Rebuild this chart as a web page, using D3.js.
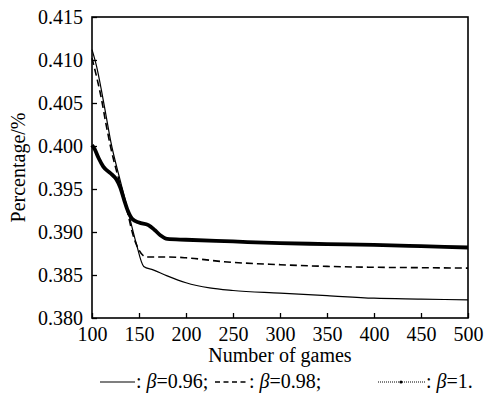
<!DOCTYPE html>
<html><head><meta charset="utf-8">
<script src="https://cdn.jsdelivr.net/npm/d3@7"></script>
<style>
body{margin:0;background:#fff;}
</style></head>
<body><svg id="c" width="485" height="402" font-family="serif"></svg>
<script>
const xTicks = [100,150,200,250,300,350,400,450,500];
const yTicks = [0.380,0.385,0.390,0.395,0.400,0.405,0.410,0.415];

const xs096 = [100,105,110,115,120,130,140,147,155,165,180,200,225,250,300,350,400,450,500];
const ys096 = [0.4112,0.4092,0.4065,0.4035,0.4005,0.3960,0.3917,0.3887,0.3860,0.3856,0.3849,0.3841,0.3835,0.3832,0.3829,0.3826,0.3823,0.3822,0.3821];

const xs098 = [100,105,110,115,120,130,138,143,149,158,180,200,240,300,350,400,450,500];
const ys098 = [0.4102,0.4080,0.4055,0.4025,0.3998,0.3955,0.3922,0.3899,0.3881,0.3871,0.3871,0.3870,0.38655,0.3862,0.3860,0.3859,0.38585,0.3858];

const xs100 = [100,103,107,112,120,126,130,134,138,143,150,160,167,173,180,200,250,300,350,400,450,500];
const ys100 = [0.4001,0.3996,0.3986,0.3976,0.3968,0.3961,0.3952,0.3938,0.3925,0.3915,0.3911,0.3908,0.3902,0.3896,0.3892,0.3891,0.3889,0.3887,0.3886,0.3885,0.38835,0.3882];

const seriesNames = ["0.96","0.98","1."];

const FF = "serif";
const svg = d3.select("#c");
const L=92,T=17,R=468,B=318;
const x = d3.scaleLinear().domain([100,500]).range([L,R]);
const y = d3.scaleLinear().domain([0.380,0.415]).range([B,T]);

const g = svg.append("g");
const xa = g.append("g").attr("transform",`translate(0,${B})`)
  .call(d3.axisBottom(x).tickValues(xTicks).tickSize(-5).tickSizeOuter(0).tickPadding(9).tickFormat(d3.format("d")));
const ya = g.append("g").attr("transform",`translate(${L},0)`)
  .call(d3.axisLeft(y).tickValues(yTicks).tickSize(-5).tickSizeOuter(0).tickPadding(9).tickFormat(d3.format(".3f")));
[xa,ya].forEach(a=>{
  a.attr("font-family",FF).attr("font-size",20);
  a.selectAll("text").attr("font-family",FF).attr("font-size",20).style("font-family",FF);
  a.select(".domain").remove();
  a.selectAll("line").attr("stroke","#000").attr("stroke-width",1.3);
});
g.append("rect").attr("x",L).attr("y",T).attr("width",R-L).attr("height",B-T)
  .attr("fill","none").attr("stroke","#000").attr("stroke-width",1.6);

const line = d3.line().x(d=>x(d[0])).y(d=>y(d[1])).curve(d3.curveMonotoneX);
const mk=(xs,ys)=>xs.map((v,i)=>[v,ys[i]]);
g.append("path").datum(mk(xs096,ys096)).attr("d",line).attr("fill","none").attr("stroke","#000").attr("stroke-width",1.2);
g.append("path").datum(mk(xs098,ys098)).attr("d",line).attr("fill","none").attr("stroke","#000").attr("stroke-width",1.6).attr("stroke-dasharray","7,4");
g.append("path").datum(mk(xs100,ys100)).attr("d",line).attr("fill","none").attr("stroke","#000").attr("stroke-width",3.8);

function txt(){ return svg.append("text").attr("font-family",FF).style("font-family",FF).attr("font-size",20); }
txt().attr("x",(L+R)/2).attr("y",362).attr("text-anchor","middle").text("Number of games");
txt().attr("transform",`translate(25,${(T+B)/2}) rotate(-90)`).attr("text-anchor","middle").text("Percentage/%");

const ly=382, lb=388;
function legText(xp, name){
  const t = txt().attr("x",xp).attr("y",lb);
  t.append("tspan").text(": ");
  t.append("tspan").attr("font-style","italic").text("β");
  t.append("tspan").text("=" + name);
}
svg.append("line").attr("x1",100).attr("x2",135).attr("y1",ly).attr("y2",ly).attr("stroke","#000").attr("stroke-width",1.2);
legText(136, seriesNames[0] + ";");
svg.append("line").attr("x1",215).attr("x2",248).attr("y1",ly).attr("y2",ly).attr("stroke","#000").attr("stroke-width",1.6).attr("stroke-dasharray","5,3.5");
legText(249, seriesNames[1] + ";");
svg.append("line").attr("x1",378).attr("x2",425).attr("y1",ly).attr("y2",ly).attr("stroke","#000").attr("stroke-width",1).attr("stroke-dasharray","1,1");
svg.append("circle").attr("cx",401).attr("cy",ly).attr("r",1.6).attr("fill","#000");
legText(426, seriesNames[2]);
</script></body></html>
